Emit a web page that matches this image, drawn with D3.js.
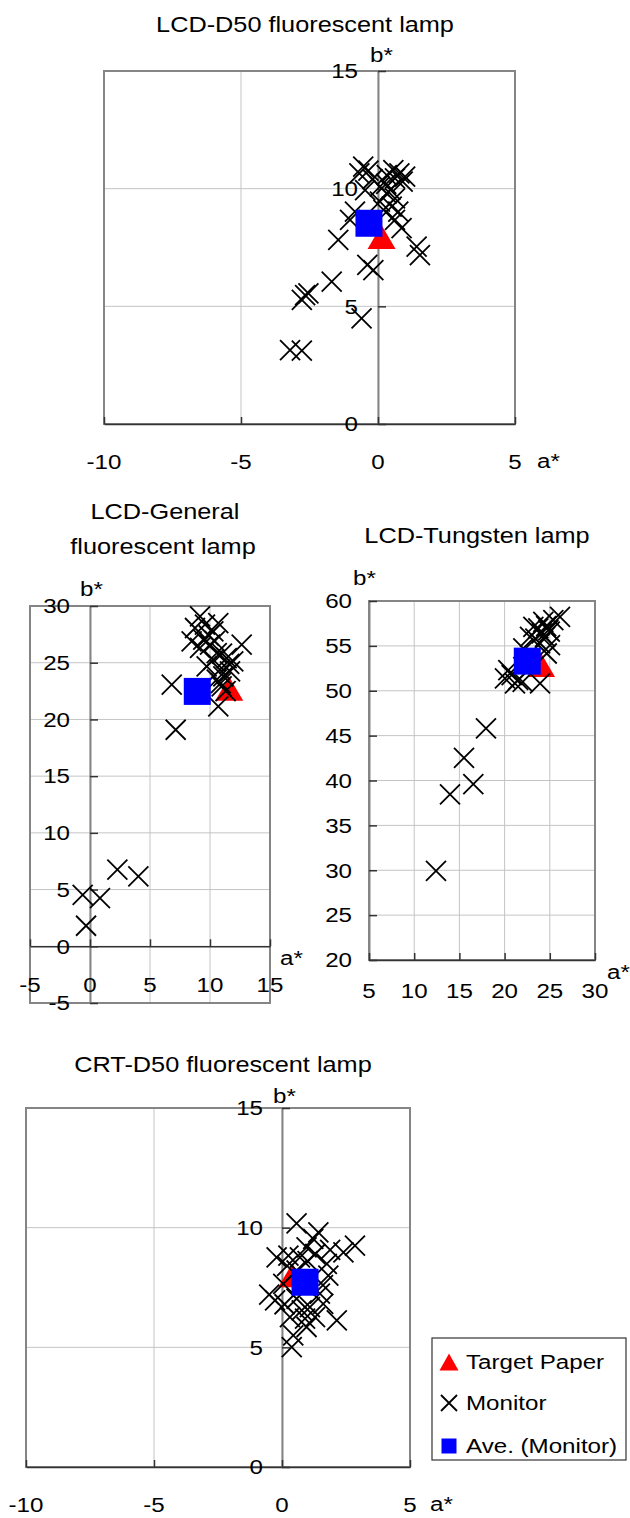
<!doctype html>
<html>
<head>
<meta charset="utf-8" />
<script src="https://d3js.org/d3.v7.min.js"></script>
<style>
  body { margin: 0; background: #fff; }
  text { font-family: "Liberation Sans", Arial, sans-serif; fill: #000; }
</style>
</head>
<body>
<script>
// ---- data (a*, b*) ----
var lcdD50Monitor = [
  [-0.54,10.94],[-0.68,10.65],[-0.35,10.77],[0.56,10.79],[0.78,10.65],[0.62,10.44],
  [0.32,10.58],[0.99,10.51],[0.07,10.09],[-0.47,9.94],[0.32,9.8],[0.62,9.59],
  [0.07,9.45],[0.5,9.24],[0.74,9.02],[-0.84,9.02],[-1.02,8.67],[0.62,8.67],
  [0.86,8.32],[-1.45,7.82],[1.41,7.54],[1.53,7.18],[-0.39,6.76],[-0.17,6.54],
  [-1.69,6.05],[-2.66,5.48],[-2.78,5.27],[-2.54,5.55],[-0.6,4.49],[-3.21,3.14],[-2.78,3.12],
  [0.3,10.2],[0.9,10.3],[-0.2,10.4],[0.45,9.95],[0.2,9.1]
];
var lcdD50Target = [0.13, 7.95];
var lcdD50Ave = [-0.33, 8.53];

var lcdGenMonitor = [
  [9.17,29.08],[9.58,28.35],[8.75,28.06],[10.69,28.5],[10.28,27.76],[8.47,26.88],
  [9.44,27.03],[10.0,26.59],[9.17,26.3],[12.64,26.59],[10.56,25.85],[11.39,25.41],
  [11.94,25.11],[9.72,24.67],[11.67,24.23],[10.83,24.38],[10.56,23.5],[11.11,23.79],
  [10.97,22.91],[6.81,23.06],[10.69,21.15],[7.14,19.09],[2.28,6.75],[4.03,6.16],
  [-0.61,4.54],[0.83,4.25],[-0.33,1.81],[10.28,25.26],
  [9.9,27.4],[10.4,26.9],[11.0,25.8],[11.6,24.9],[10.9,23.2],[11.3,22.5]
];
var lcdGenTarget = [11.6, 22.7];
var lcdGenAve = [8.94, 22.47];

var lcdTungMonitor = [
  [12.41,29.94],[13.96,38.45],[16.54,39.6],[15.51,42.53],[17.94,45.8],[23.92,50.81],
  [20.04,51.37],[20.78,51.74],[21.15,50.81],[20.41,52.29],[26.13,58.23],[25.39,57.86],
  [24.28,57.67],[23.73,56.94],[24.84,56.75],[22.81,56.0],[24.47,56.0],[25.02,55.08],
  [23.92,55.27],[24.66,54.15],[23.18,57.12],[22.07,54.71],
  [24.6,57.2],[25.0,56.6],[24.1,56.4],[23.4,55.8],[21.5,51.2],[22.0,51.0]
];
var lcdTungTarget = [24.03, 52.88];
var lcdTungAve = [22.51, 53.3];

var crtD50Monitor = [
  [0.57,10.18],[1.42,9.8],[1.22,9.53],[2.85,9.25],[2.4,8.97],[1.88,9.07],
  [-0.21,8.76],[0.25,8.83],[0.96,9.18],[0.7,8.76],[1.75,8.49],[1.81,8.0],
  [-0.27,6.96],[0.57,7.03],[1.09,6.68],[0.31,6.26],[2.14,6.13],[0.96,5.85],
  [0.38,5.01],[0.44,5.5],[1.48,7.24],[1.61,6.82],[0.05,7.65],[0.57,8.21],
  [1.29,6.26],[0.77,6.54],
  [0.2,8.4],[1.0,8.6],[1.3,8.9],[-0.5,7.2],[0.1,6.8],[1.6,7.6],[0.9,6.2]
];
var crtD50Target = [0.4, 8.01];
var crtD50Ave = [0.9, 7.72];

// tick values
var xTicksD50 = [-10, -5, 0, 5];
var yTicksD50 = [0, 5, 10, 15];
var xTicksGen = [-5, 0, 5, 10, 15];
var yTicksGen = [-5, 0, 5, 10, 15, 20, 25, 30];
var xTicksTung = [5, 10, 15, 20, 25, 30];
var yTicksTung = [20, 25, 30, 35, 40, 45, 50, 55, 60];

var legendNames = ["Target Paper", "Monitor", "Ave. (Monitor)"];

// ---- drawing ----
var SX = 1.15;   // the original text is a bit wide
var svg = d3.select("body").append("svg").attr("width", 630).attr("height", 1518);

function txt(g, x, y, s, anchor, size) {
  return g.append("text")
    .attr("transform", "translate(" + x + "," + y + ") scale(" + SX + ",1)")
    .attr("text-anchor", anchor || "start")
    .style("font-size", (size || 21) + "px")
    .text(s);
}

function cross(g, cx, cy, s) {
  g.append("path")
    .attr("d", "M" + (cx - s) + "," + (cy - s) + "L" + (cx + s) + "," + (cy + s) +
               "M" + (cx - s) + "," + (cy + s) + "L" + (cx + s) + "," + (cy - s))
    .attr("stroke", "#000").attr("stroke-width", 1.8).attr("fill", "none");
}
function triangle(g, cx, cy, w, h) {
  g.append("path")
    .attr("d", "M" + cx + "," + (cy - h / 2) + "L" + (cx + w / 2) + "," + (cy + h / 2) +
               "L" + (cx - w / 2) + "," + (cy + h / 2) + "Z")
    .attr("fill", "#ff0000");
}
function square(g, cx, cy, s) {
  g.append("rect").attr("x", cx - s / 2).attr("y", cy - s / 2)
    .attr("width", s).attr("height", s).attr("fill", "#0000ff");
}

function panel(p) {
  var x = d3.scaleLinear().domain(p.xDom).range([p.left, p.right]);
  var y = d3.scaleLinear().domain(p.yDom).range([p.bottom, p.top]);
  var g = svg.append("g");

  g.selectAll("line.gx").data(p.xTicks).enter().append("line")
    .attr("x1", d => x(d)).attr("x2", d => x(d)).attr("y1", p.top).attr("y2", p.bottom)
    .attr("stroke", "#c4c4c4");
  g.selectAll("line.gy").data(p.yTicks).enter().append("line")
    .attr("y1", d => y(d)).attr("y2", d => y(d)).attr("x1", p.left).attr("x2", p.right)
    .attr("stroke", "#c4c4c4");

  g.append("rect").attr("x", p.left).attr("y", p.top)
    .attr("width", p.right - p.left).attr("height", p.bottom - p.top)
    .attr("fill", "none").attr("stroke", "#858585").attr("stroke-width", 2);

  var ax0 = x(p.yAxisAt), ay0 = y(p.xAxisAt);

  var ya = g.append("g").attr("transform", "translate(" + ax0 + ",0)")
    .call(d3.axisRight(y).tickValues(p.yTicks).tickSize(8).tickSizeOuter(0).tickFormat(""));
  ya.select(".domain").attr("stroke", "#858585").attr("stroke-width", 2);
  ya.selectAll(".tick line").attr("stroke", "#333").attr("stroke-width", 1.5);

  var xa = g.append("g").attr("transform", "translate(0," + ay0 + ")")
    .call(d3.axisTop(x).tickValues(p.xTicks).tickSize(7).tickSizeOuter(0).tickFormat(""));
  xa.select(".domain").attr("stroke", "#333").attr("stroke-width", 1.5);
  xa.selectAll(".tick line").attr("stroke", "#333").attr("stroke-width", 1.5);

  p.yTicks.forEach(v => txt(g, ax0 - p.yLabGap, y(v), String(v), "end").attr("dy", "0.35em"));
  p.xTicks.forEach(v => txt(g, x(v), ay0 + p.xLabOff, String(v), "middle").attr("dy", "0.35em"));

  txt(g, p.aStar[0], p.aStar[1], "a*", "start");
  txt(g, p.bStar[0], p.bStar[1], "b*", "start");
  p.title.forEach(t => txt(g, t[0], t[1], t[2], "middle", 22));

  triangle(g, x(p.target[0]), y(p.target[1]), 28, 24);
  p.monitor.forEach(d => cross(g, x(d[0]), y(d[1]), 10));
  square(g, x(p.ave[0]), y(p.ave[1]), 27);
}

panel({
  xDom: [-10, 5], yDom: [0, 15], left: 104, right: 515, top: 71, bottom: 424,
  xTicks: xTicksD50, yTicks: yTicksD50, yAxisAt: 0, xAxisAt: 0,
  yLabGap: 20, xLabOff: 38, aStar: [537, 468], bStar: [370, 62],
  title: [[305, 32, "LCD-D50 fluorescent lamp"]],
  monitor: lcdD50Monitor, target: lcdD50Target, ave: lcdD50Ave
});

panel({
  xDom: [-5, 15], yDom: [-5, 30], left: 30, right: 270, top: 606, bottom: 1003,
  xTicks: xTicksGen, yTicks: yTicksGen, yAxisAt: 0, xAxisAt: 0,
  yLabGap: 20, xLabOff: 38.5, aStar: [280, 965], bStar: [80, 596],
  title: [[165, 519, "LCD-General"], [163, 554, "fluorescent lamp"]],
  monitor: lcdGenMonitor, target: lcdGenTarget, ave: lcdGenAve
});

panel({
  xDom: [5, 30], yDom: [20, 60], left: 369, right: 595, top: 601, bottom: 960,
  xTicks: xTicksTung, yTicks: yTicksTung, yAxisAt: 5, xAxisAt: 20,
  yLabGap: 17, xLabOff: 31, aStar: [607, 979], bStar: [353, 585],
  title: [[477, 543, "LCD-Tungsten lamp"]],
  monitor: lcdTungMonitor, target: lcdTungTarget, ave: lcdTungAve
});

panel({
  xDom: [-10, 5], yDom: [0, 15], left: 26, right: 410, top: 1108, bottom: 1467,
  xTicks: xTicksD50, yTicks: yTicksD50, yAxisAt: 0, xAxisAt: 0,
  yLabGap: 19, xLabOff: 38, aStar: [430, 1511], bStar: [273, 1103],
  title: [[223, 1072, "CRT-D50 fluorescent lamp"]],
  monitor: crtD50Monitor, target: crtD50Target, ave: crtD50Ave
});

// legend
var lg = svg.append("g");
lg.append("rect").attr("x", 432).attr("y", 1338).attr("width", 194).attr("height", 122)
  .attr("fill", "#fff").attr("stroke", "#333").attr("stroke-width", 1.2);
var rowY = [1362, 1403, 1446];
triangle(lg, 449, rowY[0], 19, 17);
cross(lg, 449, rowY[1], 8);
square(lg, 449, rowY[2], 15);
legendNames.forEach((n, i) => txt(lg, 466, rowY[i], n, "start").attr("dy", "0.35em"));
</script>
</body>
</html>
